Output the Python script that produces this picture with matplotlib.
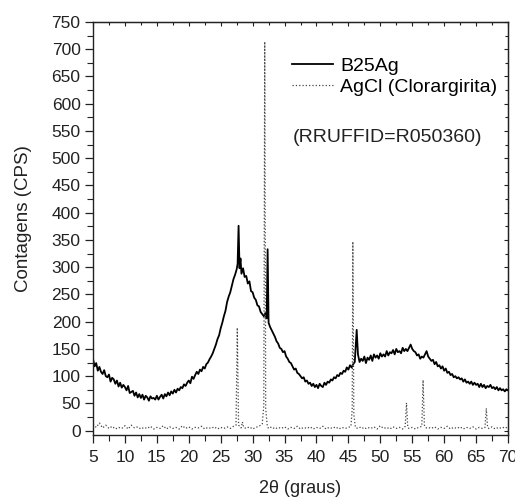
import matplotlib
matplotlib.use("Agg")
import matplotlib.pyplot as plt
from matplotlib.ticker import MultipleLocator

plt.rcParams['font.family'] = ['Liberation Sans', 'DejaVu Sans']

# --- dados (2theta em graus, contagens em CPS) ---
b25_theta = [
    5.00, 5.25, 5.50, 5.75, 6.00, 6.25, 6.50, 6.75, 7.00, 7.25,
    7.50, 7.75, 8.00, 8.25, 8.50, 8.75, 9.00, 9.25, 9.50, 9.75,
    10.00, 10.25, 10.50, 10.75, 11.00, 11.25, 11.50, 11.75, 12.00, 12.25,
    12.50, 12.75, 13.00, 13.25, 13.50, 13.75, 14.00, 14.25, 14.50, 14.75,
    15.00, 15.25, 15.50, 15.75, 16.00, 16.25, 16.50, 16.75, 17.00, 17.25,
    17.50, 17.75, 18.00, 18.25, 18.50, 18.75, 19.00, 19.25, 19.50, 19.75,
    20.00, 20.25, 20.50, 20.75, 21.00, 21.25, 21.50, 21.75, 22.00, 22.25,
    22.50, 22.75, 23.00, 23.25, 23.50, 23.75, 24.00, 24.25, 24.50, 24.75,
    25.00, 25.25, 25.50, 25.75, 26.00, 26.25, 26.50, 26.75, 27.00, 27.25,
    27.50, 27.65, 27.80, 27.95, 28.10, 28.25, 28.50, 28.75, 29.00, 29.25,
    29.50, 29.75, 30.00, 30.25, 30.50, 30.75, 31.00, 31.25, 31.50, 31.75,
    32.00, 32.20, 32.35, 32.50, 32.75, 33.00, 33.25, 33.50, 33.75, 34.00,
    34.25, 34.50, 34.75, 35.00, 35.25, 35.50, 35.75, 36.00, 36.25, 36.50,
    36.75, 37.00, 37.25, 37.50, 37.75, 38.00, 38.25, 38.50, 38.75, 39.00,
    39.25, 39.50, 39.75, 40.00, 40.25, 40.50, 40.75, 41.00, 41.25, 41.50,
    41.75, 42.00, 42.25, 42.50, 42.75, 43.00, 43.25, 43.50, 43.75, 44.00,
    44.25, 44.50, 44.75, 45.00, 45.25, 45.50, 45.75, 46.00, 46.30, 46.50,
    46.75, 47.00, 47.25, 47.50, 47.75, 48.00, 48.25, 48.50, 48.75, 49.00,
    49.25, 49.50, 49.75, 50.00, 50.25, 50.50, 50.75, 51.00, 51.25, 51.50,
    51.75, 52.00, 52.25, 52.50, 52.75, 53.00, 53.25, 53.50, 53.75, 54.00,
    54.25, 54.50, 54.75, 55.00, 55.25, 55.50, 55.75, 56.00, 56.25, 56.50,
    56.75, 57.00, 57.25, 57.50, 57.75, 58.00, 58.25, 58.50, 58.75, 59.00,
    59.25, 59.50, 59.75, 60.00, 60.25, 60.50, 60.75, 61.00, 61.25, 61.50,
    61.75, 62.00, 62.25, 62.50, 62.75, 63.00, 63.25, 63.50, 63.75, 64.00,
    64.25, 64.50, 64.75, 65.00, 65.25, 65.50, 65.75, 66.00, 66.25, 66.50,
    66.75, 67.00, 67.25, 67.50, 67.75, 68.00, 68.25, 68.50, 68.75, 69.00,
    69.25, 69.50, 69.75, 70.00]
b25_counts = [
    132, 118, 124, 110, 117, 108, 104, 111, 100, 98,
    103, 90, 97, 94, 86, 92, 81, 88, 79, 84,
    80, 74, 82, 69, 71, 73, 64, 70, 61, 67,
    60, 66, 57, 64, 61, 55, 63, 59, 60, 57,
    64, 57, 62, 66, 59, 67, 63, 70, 65, 72,
    68, 75, 70, 77, 74, 80, 78, 85, 82, 88,
    92, 87, 99, 95, 102, 108, 104, 112, 109, 117,
    114, 122, 125, 131, 136, 142, 150, 158, 168, 175,
    188, 198, 210, 220, 236, 246, 254, 266, 278, 286,
    296, 306, 376, 298, 316, 288, 298, 282, 284, 270,
    274, 256, 254, 244, 240, 230, 228, 218, 214, 210,
    216, 206, 333, 198, 190, 184, 178, 172, 164, 160,
    152, 150, 144, 146, 136, 132, 126, 124, 118, 112,
    114, 106, 104, 100, 96, 98, 90, 92, 86, 88,
    82, 86, 80, 84, 78, 86, 82, 80, 88, 84,
    90, 88, 94, 92, 98, 96, 102, 100, 106, 104,
    110, 108, 116, 112, 120, 116, 122, 126, 185, 140,
    126, 132, 128, 136, 124, 134, 130, 138, 128, 140,
    134, 138, 132, 142, 136, 140, 136, 146, 138, 144,
    142, 148, 140, 150, 144, 146, 142, 152, 146, 150,
    146, 152, 158, 150, 146, 144, 138, 140, 132, 136,
    134, 140, 146, 136, 132, 128, 130, 122, 126, 118,
    120, 114, 118, 110, 114, 106, 108, 102, 104, 98,
    100, 96, 98, 94, 96, 90, 94, 88, 90, 86,
    90, 84, 88, 84, 86, 80, 86, 80, 84, 78,
    82, 80, 84, 78, 80, 76, 80, 74, 78, 74,
    76, 72, 76, 74]

agcl_theta = [
    5.0, 5.5, 6.0, 6.5, 7.0, 7.5, 8.0, 8.5, 9.0, 9.5,
    10.0, 10.5, 11.0, 11.5, 12.0, 12.5, 13.0, 13.5, 14.0, 14.5,
    15.0, 15.5, 16.0, 16.5, 17.0, 17.5, 18.0, 18.5, 19.0, 19.5,
    20.0, 20.5, 21.0, 21.5, 22.0, 22.5, 23.0, 23.5, 24.0, 24.5,
    25.0, 25.5, 26.0, 26.5, 27.0, 27.4, 27.6, 27.8, 28.2, 28.4,
    28.6, 29.0, 29.5, 30.0, 30.5, 31.0, 31.5, 31.75, 31.9, 32.05,
    32.3, 32.5, 33.0, 33.5, 34.0, 34.5, 35.0, 35.5, 36.0, 36.5,
    37.0, 37.5, 38.0, 38.5, 39.0, 39.5, 40.0, 40.5, 41.0, 41.5,
    42.0, 42.5, 43.0, 43.5, 44.0, 44.5, 45.0, 45.4, 45.6, 45.7,
    45.85, 46.1, 46.5, 47.0, 47.5, 48.0, 48.5, 49.0, 49.5, 50.0,
    50.5, 51.0, 51.5, 52.0, 52.5, 53.0, 53.5, 53.9, 54.1, 54.3,
    54.5, 55.0, 55.5, 56.0, 56.5, 56.7, 56.9, 57.2, 57.5, 58.0,
    58.5, 59.0, 59.5, 60.0, 60.5, 61.0, 61.5, 62.0, 62.5, 63.0,
    63.5, 64.0, 64.5, 65.0, 65.5, 66.0, 66.4, 66.6, 66.8, 67.0,
    67.5, 68.0, 68.5, 69.0, 69.5, 70.0]
agcl_counts = [
    12, 6, 14, 5, 10, 4, 8, 3, 6, 4,
    9, 3, 10, 5, 7, 3, 6, 4, 8, 3,
    6, 4, 9, 3, 7, 4, 6, 3, 9, 4,
    7, 3, 6, 5, 8, 3, 6, 4, 7, 3,
    6, 4, 7, 4, 8, 10, 189, 10, 5, 16,
    6, 4, 7, 3, 6, 8, 12, 45, 714, 40,
    8, 4, 7, 3, 6, 4, 7, 3, 6, 4,
    8, 3, 6, 4, 7, 3, 6, 4, 8, 3,
    6, 4, 7, 3, 6, 4, 6, 8, 40, 347,
    30, 6, 4, 7, 3, 6, 4, 7, 3, 9,
    4, 6, 3, 7, 4, 6, 3, 8, 51, 6,
    4, 6, 3, 6, 8, 93, 10, 5, 6, 4,
    7, 3, 6, 4, 8, 3, 6, 4, 7, 3,
    6, 4, 7, 3, 6, 4, 6, 41, 6, 4,
    7, 3, 6, 4, 7, 4]

fig = plt.figure(figsize=(5.15, 4.98), dpi=100)
ax = fig.add_axes([0.1806, 0.1265, 0.8058, 0.8293])

ax.plot(b25_theta, b25_counts, color='black', lw=1.3, label='B25Ag')
ax.plot(agcl_theta, agcl_counts, color='#444444', lw=0.9, ls=':', label='AgCl (Clorargirita)')

ax.set_xlim(5, 70)
ax.set_ylim(-8, 750)
ax.xaxis.set_major_locator(MultipleLocator(5))
ax.xaxis.set_minor_locator(MultipleLocator(2.5))
ax.yaxis.set_major_locator(MultipleLocator(50))
ax.yaxis.set_minor_locator(MultipleLocator(25))
ax.tick_params(which='major', direction='out', length=6, width=0.9, labelsize=12.5,
               colors='#222222')
ax.tick_params(which='minor', direction='out', length=4, width=0.8, colors='#222222')
ax.tick_params(axis='x', which='major', pad=4.5)
ax.tick_params(axis='y', which='major', pad=3)
for s in ax.spines.values():
    s.set_linewidth(1.0)
    s.set_color('#222222')

# ticks para dentro no topo e na direita
top = ax.secondary_xaxis('top')
top.xaxis.set_major_locator(MultipleLocator(5))
top.xaxis.set_minor_locator(MultipleLocator(2.5))
top.tick_params(which='both', direction='in', labeltop=False, width=0.8, colors='#222222')
top.tick_params(which='major', length=3)
top.tick_params(which='minor', length=2)
right = ax.secondary_yaxis('right')
right.yaxis.set_major_locator(MultipleLocator(50))
right.yaxis.set_minor_locator(MultipleLocator(25))
right.tick_params(which='both', direction='in', labelright=False, width=0.8, colors='#222222')
right.tick_params(which='major', length=3)
right.tick_params(which='minor', length=2)

ax.set_xlabel('2θ (graus)', fontsize=13, color='#222222')
ax.xaxis.set_label_coords(0.5, -0.108)
ax.set_ylabel('Contagens (CPS)', fontsize=13.5, color='#222222')
ax.yaxis.set_label_coords(-0.147, 0.523)

ax.legend(loc='upper left', bbox_to_anchor=(0.479, 0.915), frameon=False,
          fontsize=14, handlelength=2.1, handletextpad=0.4, borderpad=0,
          borderaxespad=0, labelspacing=0.2)
ax.text(0.482, 0.7215, '(RRUFFID=R050360)', transform=ax.transAxes,
        fontsize=14, va='center', ha='left', color='#222222')

fig.savefig('out.png', dpi=100)
